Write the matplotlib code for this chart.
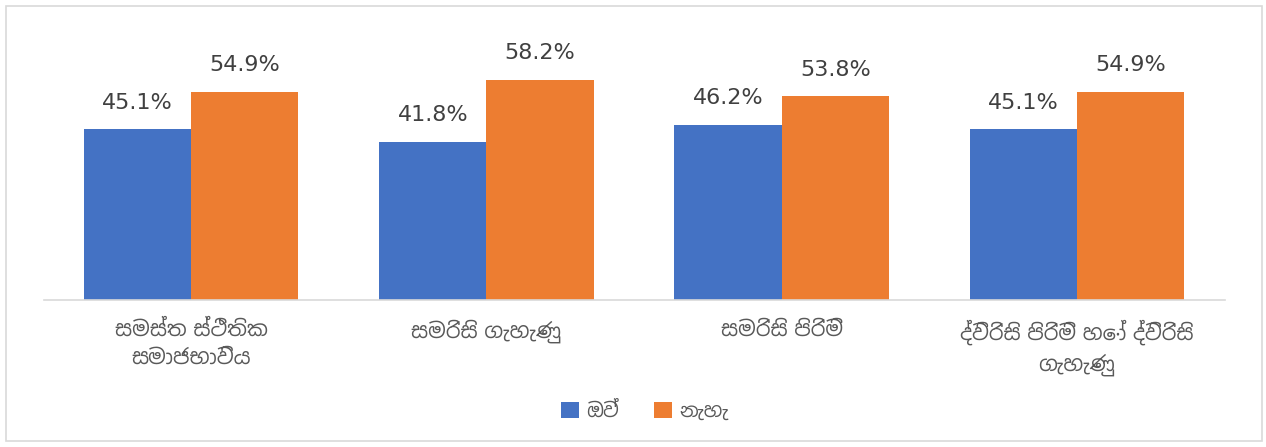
import matplotlib
matplotlib.use("Agg")
import matplotlib.pyplot as plt
from matplotlib import font_manager
from matplotlib.ft2font import FT2Font
from matplotlib.patches import Rectangle
import numpy as np

categories = ["සමස්ත ස්ථිතික\nසමාජභාවිය", "සමරිසි ගැහැණු", "සමරිසි පිරිමි",
              "ද්විරිසි පිරිමි හෝ ද්විරිසි\nගැහැණු"]
series_names = ["ඔව්", "නැහැ"]
yes_vals = [45.1, 41.8, 46.2, 45.1]
no_vals = [54.9, 58.2, 53.8, 54.9]

# find fonts with Sinhala glyphs, prefer proportional Sinhala fonts
cands = []
for f in font_manager.fontManager.ttflist:
    try:
        cm = FT2Font(f.fname).get_charmap()
        if ord("ස") in cm and ord("ව") in cm:
            score = 0
            if "mono" in f.name.lower():
                score += 10
            if "sinhala" not in f.name.lower():
                score += 1
            cands.append((score, f.name))
    except Exception:
        pass
cands.sort()
sinhala_font = cands[0][1] if cands else None
families = ["DejaVu Sans"] + ([sinhala_font] if sinhala_font else [])
plt.rcParams["font.family"] = families

fig = plt.figure(figsize=(12.66, 4.47), dpi=100)
fig.patches.append(Rectangle((6 / 1266, 6 / 447), 1256 / 1266, 435 / 447,
                             transform=fig.transFigure, fill=False,
                             edgecolor="#d9d9d9", linewidth=1.2))
ax = fig.add_axes([43.5 / 1266, (447 - 300) / 447, 1181 / 1266, 265 / 447])

x = np.arange(len(categories))
w = 0.363
b1 = ax.bar(x - w / 2, yes_vals, w, color="#4472C4", label=series_names[0])
b2 = ax.bar(x + w / 2, no_vals, w, color="#ED7D31", label=series_names[1])

for bars, vals in ((b1, yes_vals), (b2, no_vals)):
    for r, v in zip(bars, vals):
        ax.annotate(f"{v:.1f}%", (r.get_x() + r.get_width() / 2, v),
                    xytext=(0, 12), textcoords="offset points",
                    ha="center", va="bottom", fontsize=16, color="#404040")

ax.set_xlim(-0.5, len(categories) - 0.5)
ax.set_ylim(0, 70)
ax.set_yticks([])
ax.set_xticks(x)
ax.set_xticklabels(categories, fontsize=15, color="#595959", linespacing=1.5)
ax.tick_params(axis="x", length=0, pad=14)
for s in ("top", "right", "left"):
    ax.spines[s].set_visible(False)
ax.spines["bottom"].set_color("#d9d9d9")
ax.spines["bottom"].set_linewidth(1.2)

fig.legend(handles=[b1, b2], labels=series_names, loc="center",
           bbox_to_anchor=(645 / 1266, (447 - 411) / 447), ncol=2,
           frameon=False, fontsize=14, handlelength=0.9, handleheight=0.9,
           columnspacing=1.8, handletextpad=0.4, labelcolor="#595959")

fig.savefig("out.png", dpi=100)
